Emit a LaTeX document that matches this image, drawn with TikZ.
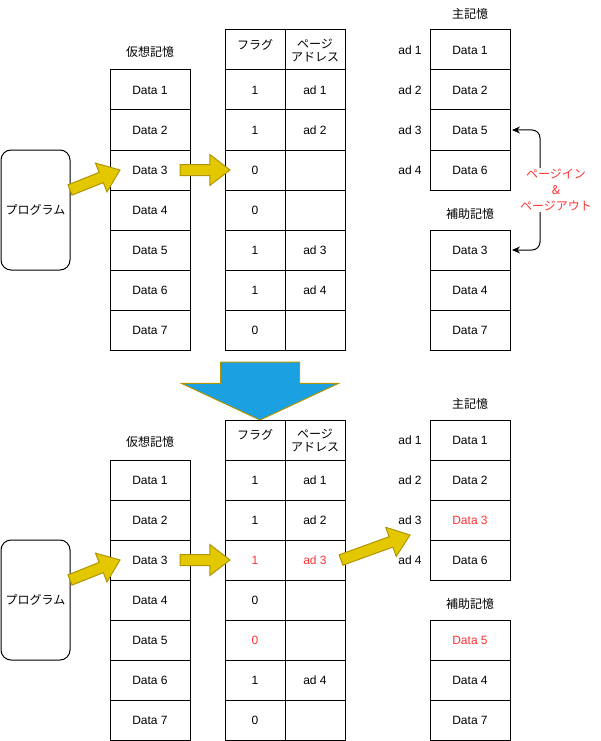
\documentclass[tikz,border=0pt]{standalone}
\usepackage{fontspec}
\setmainfont{Liberation Sans}
\newfontfamily\jp{Noto Sans CJK JP}
\usepackage{tikz}
\usetikzlibrary{shapes.arrows, arrows.meta, positioning, calc}
\definecolor{arrowfill}{HTML}{E3C800}
\definecolor{arrowline}{HTML}{B09500}
\definecolor{downfill}{HTML}{1BA1E2}
\definecolor{pagered}{HTML}{FF3333}
\tikzset{
    cell/.style={
        rectangle,
        draw=black,
        line width=1pt,
        minimum width=80pt,
        minimum height=40pt,
        inner sep=0pt,
        outer sep=0pt,
        align=center,
        font=\fontsize{12}{14}\selectfont
    },
    tablecell/.style={
        cell,
        minimum width=60pt
    },
    progbox/.style={
        cell,
        rounded corners=10pt,
        minimum width=69pt,
        minimum height=120pt,
        font=\fontsize{12}{14}\selectfont\jp
    },
    headtext/.style={
        inner sep=0pt,
        align=center,
        font=\fontsize{12}{14}\selectfont\jp
    },
    adtext/.style={
        inner sep=0pt,
        font=\fontsize{12}{14}\selectfont
    },
    iotext/.style={
        headtext,
        fill=white,
        inner sep=1pt,
        text=pagered,
        font=\fontsize{12}{16}\selectfont\jp
    },
    yarrow/.style={
        single arrow,
        draw=arrowline,
        fill=arrowfill,
        line width=1pt,
        inner xsep=0pt,
        inner ysep=5pt,
        outer sep=0pt,
        single arrow head extend=10pt,
        single arrow tip angle=75
    },
    downarrow/.style={
        yarrow,
        fill=downfill,
        inner ysep=39pt,
        single arrow head extend=39pt,
        single arrow tip angle=130
    },
    pageio/.style={
        draw=black,
        line width=1pt,
        {Stealth[length=8pt,width=7pt]}-{Stealth[length=8pt,width=7pt]},
        rounded corners=8pt,
        shorten <=2pt,
        shorten >=2pt
    }
}
\newcommand{\blockarrow}[3]{%
    \path let \p1=($(#3)-(#2)$), \n1={atan2(\y1,\x1)}, \n2={veclen(\x1,\y1)} in
        node[#1, anchor=tail, rotate=\n1, minimum height=\n2] at (#2) {};}

\begin{document}
\begin{tikzpicture}[x=1pt, y=-1pt]
\useasboundingbox (0,0) rectangle (601,741);

% Before page-in
\node[progbox] (tprog) at (35.5,210) {プログラム};
\node[headtext] (tvhead) at (150,52) {仮想記憶};
\foreach \i in {1,...,7}
    \node[cell] (tv\i) at (150,50+40*\i) {Data \i};

\node[tablecell] (tf0) at (255,50) {};
\node[headtext] (tfhead) at (255,45) {フラグ};
\node[tablecell, font=\fontsize{12}{13}\selectfont\jp] (ta0) at (315,50) {ページ\\アドレス};
\foreach \f [count=\i] in {1,1,0,0,1,1,0}
    \node[tablecell] (tf\i) at (255,50+40*\i) {\f};
\foreach \a [count=\i] in {ad 1,ad 2,{},{},ad 3,ad 4,{}}
    \node[tablecell] (ta\i) at (315,50+40*\i) {\a};

\node[headtext] (tmhead) at (470,14) {主記憶};
\foreach \d [count=\i] in {1,2,5,6} {
    \node[cell] (tm\i) at (470,10+40*\i) {Data \d};
    \node[adtext] (tad\i) at (410,10+40*\i) {ad \i};
}
\node[headtext] (txhead) at (470,214) {補助記憶};
\foreach \d [count=\i] in {3,4,7}
    \node[cell] (tx\i) at (470,210+40*\i) {Data \d};

\coordinate (tps) at (70,190);
\coordinate (tpe) at (120,170);
\coordinate (tvs) at ($(tv3.east)+(-10,0)$);
\coordinate (tve) at ($(tf3.west)+(5,0)$);
\blockarrow{yarrow}{tps}{tpe}
\blockarrow{yarrow}{tvs}{tve}

\draw[pageio] (tm3.east) -- ++(30,0) |- (tx1.east);
\node[iotext] (tio) at (556,190) {ページイン\\\&\\ページアウト};

% Down arrow
\coordinate (dntail) at (260,362);
\coordinate (dnhead) at (260,420);
\blockarrow{downarrow}{dntail}{dnhead}

% After page-in
\node[progbox] (bprog) at (35.5,600) {プログラム};
\node[headtext] (bvhead) at (150,442) {仮想記憶};
\foreach \i in {1,...,7}
    \node[cell] (bv\i) at (150,440+40*\i) {Data \i};

\node[tablecell] (bf0) at (255,440) {};
\node[headtext] (bfhead) at (255,435) {フラグ};
\node[tablecell, font=\fontsize{12}{13}\selectfont\jp] (ba0) at (315,440) {ページ\\アドレス};
\foreach \f [count=\i] in {1,1,{\textcolor{pagered}{1}},0,{\textcolor{pagered}{0}},1,0}
    \node[tablecell] (bf\i) at (255,440+40*\i) {\f};
\foreach \a [count=\i] in {ad 1,ad 2,{\textcolor{pagered}{ad 3}},{},{},ad 4,{}}
    \node[tablecell] (ba\i) at (315,440+40*\i) {\a};

\node[headtext] (bmhead) at (470,404) {主記憶};
\foreach \d [count=\i] in {Data 1,Data 2,{\textcolor{pagered}{Data 3}},Data 6} {
    \node[cell] (bm\i) at (470,400+40*\i) {\d};
    \node[adtext] (bad\i) at (410,400+40*\i) {ad \i};
}
\node[headtext] (bxhead) at (470,604) {補助記憶};
\foreach \d [count=\i] in {{\textcolor{pagered}{Data 5}},Data 4,Data 7}
    \node[cell] (bx\i) at (470,600+40*\i) {\d};

\coordinate (bps) at (70,580);
\coordinate (bpe) at (120,560);
\coordinate (bvs) at ($(bv3.east)+(-10,0)$);
\coordinate (bve) at ($(bf3.west)+(5,0)$);
\coordinate (bas) at ($(ba3.east)+(-4,0)$);
\coordinate (bae) at (410,535);
\blockarrow{yarrow}{bps}{bpe}
\blockarrow{yarrow}{bvs}{bve}
\blockarrow{yarrow}{bas}{bae}
\end{tikzpicture}
\end{document}
